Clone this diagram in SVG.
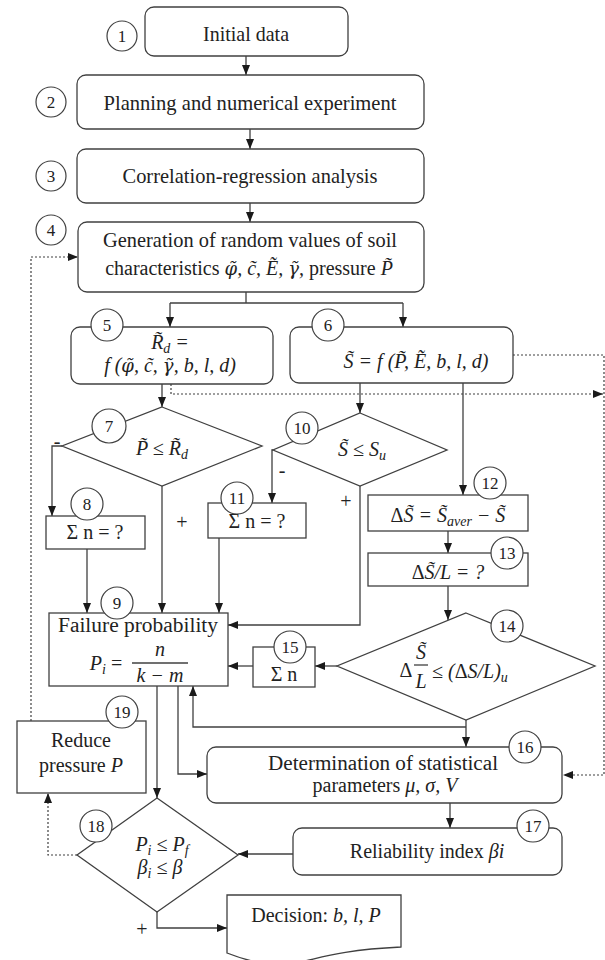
<svg xmlns="http://www.w3.org/2000/svg" width="605" height="960" viewBox="0 0 605 960">
<defs>
<style>
.box{fill:#fff;stroke:#404040;stroke-width:1.3}
.num{fill:#fff;stroke:#404040;stroke-width:1.2}
.ln{fill:none;stroke:#404040;stroke-width:1.3}
.dot{fill:none;stroke:#404040;stroke-width:1.2;stroke-dasharray:2,2}
text{font-family:"Liberation Serif","Times New Roman",serif;fill:#222}
.t{font-size:22px;text-anchor:middle}
.s{font-size:20px;text-anchor:middle}
.n{font-size:17px;text-anchor:middle}
.m{font-style:italic}
.g{font-family:"DejaVu Serif",serif;font-style:italic;font-size:0.9em}
.up{font-style:normal}
.pm{font-size:20px;text-anchor:middle}
</style>
<marker id="ah" markerWidth="10" markerHeight="8" refX="10" refY="4" orient="auto" markerUnits="userSpaceOnUse"><path d="M0,0 L10,4 L0,8 Z" fill="#1a1a1a"/></marker>
</defs>

<g id="connectors">
<path class="ln" d="M246,56 V75" marker-end="url(#ah)"/>
<path class="ln" d="M250,129 V149" marker-end="url(#ah)"/>
<path class="ln" d="M250,203 V222" marker-end="url(#ah)"/>
<path class="ln" d="M246,292 V303 M170,303 H403"/>
<path class="ln" d="M170,303 V327" marker-end="url(#ah)"/>
<path class="ln" d="M403,303 V327" marker-end="url(#ah)"/>
<path class="ln" d="M162,384 V407" marker-end="url(#ah)"/>
<path class="dot" d="M171,384 V394 H603" marker-end="url(#ah)"/>
<path class="dot" d="M513,355 H604 V775 H563" marker-end="url(#ah)"/>
<path class="ln" d="M360,383 V413" marker-end="url(#ah)"/>
<path class="ln" d="M463,383 V495" marker-end="url(#ah)"/>
<path class="ln" d="M62,446 H52 V516" marker-end="url(#ah)"/>
<path class="ln" d="M162,486 V613" marker-end="url(#ah)"/>
<path class="ln" d="M273,450 H272 V503" marker-end="url(#ah)"/>
<path class="ln" d="M360,486 V625 H228" marker-end="url(#ah)"/>
<path class="ln" d="M87,549 V613" marker-end="url(#ah)"/>
<path class="ln" d="M219,538 V613" marker-end="url(#ah)"/>
<path class="ln" d="M448,531 V553" marker-end="url(#ah)"/>
<path class="ln" d="M448,586 V620" marker-end="url(#ah)"/>
<path class="ln" d="M337,666 H315" marker-end="url(#ah)"/>
<path class="ln" d="M253,666 H228" marker-end="url(#ah)"/>
<path class="ln" d="M466,720 V747" marker-end="url(#ah)"/>
<path class="ln" d="M466,727 H193 V686" marker-end="url(#ah)"/>
<path class="ln" d="M157,686 V798" marker-end="url(#ah)"/>
<path class="ln" d="M178,686 V774 H207" marker-end="url(#ah)"/>
<path class="ln" d="M450,803 V828" marker-end="url(#ah)"/>
<path class="ln" d="M293,854 H238" marker-end="url(#ah)"/>
<path class="dot" d="M77,855 H48 V793" marker-end="url(#ah)"/>
<path class="dot" d="M31,721 V257 H78" marker-end="url(#ah)"/>
<path class="ln" d="M157,912 V928 H227" marker-end="url(#ah)"/>
</g>

<g id="node1">
<rect class="box" x="145" y="7" width="203" height="49" rx="9"/>
<text class="t" x="246" y="41" textLength="86" lengthAdjust="spacingAndGlyphs">Initial data</text>
<circle class="num" cx="122" cy="36" r="15"/><text class="n" x="122" y="42">1</text>
</g>

<g id="node2">
<rect class="box" x="77" y="75" width="347" height="54" rx="9"/>
<text class="t" x="250" y="110" textLength="293" lengthAdjust="spacingAndGlyphs">Planning and numerical experiment</text>
<circle class="num" cx="51" cy="102" r="15"/><text class="n" x="51" y="108">2</text>
</g>

<g id="node3">
<rect class="box" x="77" y="149" width="347" height="54" rx="9"/>
<text class="t" x="250" y="183" textLength="255" lengthAdjust="spacingAndGlyphs">Correlation-regression analysis</text>
<circle class="num" cx="51" cy="176" r="15"/><text class="n" x="51" y="182">3</text>
</g>

<g id="node4">
<rect class="box" x="78" y="222" width="346" height="70" rx="9"/>
<text class="t" x="250" y="247" textLength="294" lengthAdjust="spacingAndGlyphs">Generation of random values of soil</text>
<text class="t" x="249" y="275" style="font-size:20px">characteristics <tspan class="g">φ&#x303;</tspan><tspan class="m">, c&#x303;, E&#x303;, </tspan><tspan class="g">γ&#x303;</tspan><tspan class="m">,</tspan>  pressure <tspan class="m">P&#x303;</tspan></text>
<circle class="num" cx="51" cy="230" r="15"/><text class="n" x="51" y="236">4</text>
</g>

<g id="node5">
<rect class="box" x="71" y="327" width="202" height="57" rx="9"/>
<text class="s m" x="170" y="349">R&#x303;<tspan font-size="14" dy="4">d</tspan><tspan dy="-4"> =</tspan></text>
<text class="s m" x="170" y="372">f (<tspan class="g">φ&#x303;</tspan>, c&#x303;, <tspan class="g">γ&#x303;</tspan>, b, l, d)</text>
<circle class="num" cx="107" cy="325" r="16"/><text class="n" x="107" y="331">5</text>
</g>

<g id="node6">
<rect class="box" x="290" y="327" width="223" height="56" rx="9"/>
<text class="s m" x="416" y="368">S&#x303; = f (P&#x303;,  E&#x303;, b, l, d)</text>
<circle class="num" cx="328" cy="325" r="16"/><text class="n" x="328" y="331">6</text>
</g>

<g id="node7">
<polygon class="box" points="162,407 262,446 162,486 62,446"/>
<text class="s m" x="162" y="455">P&#x303; ≤ R&#x303;<tspan font-size="14" dy="4">d</tspan></text>
<circle class="num" cx="109" cy="426" r="17"/><text class="n" x="109" y="432">7</text>
</g>

<g id="node8">
<rect class="box" x="46" y="516" width="99" height="33"/>
<text class="s" x="95" y="539">Σ n = ?</text>
<circle class="num" cx="87" cy="504" r="16"/><text class="n" x="87" y="510">8</text>
</g>

<g id="node9">
<rect class="box" x="49" y="613" width="179" height="73"/>
<text class="s" x="138" y="632" textLength="160" lengthAdjust="spacingAndGlyphs">Failure probability</text>
<text class="s m" x="106" y="670">P<tspan font-size="14" dy="4">i</tspan><tspan dy="-4" font-style="normal"> =</tspan></text>
<text class="s m" x="160" y="656">n</text>
<line class="ln" x1="132" y1="663" x2="188" y2="663"/>
<text class="s m" x="160" y="682">k − m</text>
<circle class="num" cx="117" cy="603" r="16"/><text class="n" x="117" y="609">9</text>
</g>

<g id="node10">
<polygon class="box" points="360,413 447,450 360,486 273,450"/>
<text class="s m" x="362" y="456">S&#x303; ≤ S<tspan font-size="14" dy="4">u</tspan></text>
<circle class="num" cx="302" cy="428" r="16"/><text class="n" x="302" y="434">10</text>
</g>

<g id="node11">
<rect class="box" x="208" y="503" width="98" height="35"/>
<text class="s" x="257" y="528">Σ n = ?</text>
<circle class="num" cx="237" cy="498" r="16"/><text class="n" x="237" y="504">11</text>
</g>

<g id="node12">
<rect class="box" x="368" y="495" width="160" height="36"/>
<text class="s m" x="448" y="522"><tspan class="up">Δ</tspan>S&#x303; = S&#x303;<tspan font-size="14" dy="4">aver</tspan><tspan dy="-4"> − S&#x303;</tspan></text>
<circle class="num" cx="490" cy="483" r="16"/><text class="n" x="490" y="489">12</text>
</g>

<g id="node13">
<rect class="box" x="368" y="553" width="160" height="33"/>
<text class="s m" x="448" y="579"><tspan class="up">Δ</tspan>S&#x303;/L = ?</text>
<circle class="num" cx="507" cy="553" r="16"/><text class="n" x="507" y="559">13</text>
</g>

<g id="node14">
<polygon class="box" points="466,613 595,666 466,720 337,666"/>
<text class="s" x="406" y="677">Δ</text>
<text class="s m" x="421" y="659">S&#x303;</text>
<line class="ln" x1="414" y1="665" x2="428" y2="665"/>
<text class="s m" x="421" y="688">L</text>
<text class="s m" x="432" y="678" style="text-anchor:start">≤ (<tspan class="up">Δ</tspan>S/L)<tspan font-size="14" dy="4">u</tspan></text>
<circle class="num" cx="507" cy="626" r="16"/><text class="n" x="507" y="632">14</text>
</g>

<g id="node15">
<rect class="box" x="253" y="647" width="62" height="40"/>
<text class="s" x="284" y="681">Σ n</text>
<circle class="num" cx="290" cy="647" r="16"/><text class="n" x="290" y="653">15</text>
</g>

<g id="node16">
<rect class="box" x="207" y="747" width="355" height="56" rx="9"/>
<text class="s" x="383" y="770" textLength="230" lengthAdjust="spacingAndGlyphs">Determination of statistical</text>
<text class="s" x="385" y="792">parameters <tspan class="m">μ, σ, V</tspan></text>
<circle class="num" cx="525" cy="747" r="16"/><text class="n" x="525" y="753">16</text>
</g>

<g id="node17">
<rect class="box" x="293" y="828" width="269" height="47" rx="9"/>
<text class="s" x="427" y="858">Reliability index <tspan class="m">βi</tspan></text>
<circle class="num" cx="533" cy="826" r="16"/><text class="n" x="533" y="832">17</text>
</g>

<g id="node18">
<polygon class="box" points="157,798 238,855 157,912 77,855"/>
<text class="s m" x="162" y="851">P<tspan font-size="14" dy="4">i</tspan><tspan dy="-4"> ≤ P</tspan><tspan font-size="14" dy="4">f</tspan></text>
<text class="s m" x="160" y="874">β<tspan font-size="14" dy="4">i</tspan><tspan dy="-4"> ≤ β</tspan></text>
<circle class="num" cx="96" cy="826" r="16"/><text class="n" x="96" y="832">18</text>
</g>

<g id="node19">
<rect class="box" x="17" y="721" width="129" height="72"/>
<text class="s" x="81" y="747">Reduce</text>
<text class="s" x="81" y="772">pressure <tspan class="m">P</tspan></text>
<circle class="num" cx="122" cy="712" r="16"/><text class="n" x="122" y="718">19</text>
</g>

<g id="decision">
<path class="box" d="M227,895 H401 V947 C340,950 320,958 300,962 C270,968 245,960 227,953 Z"/>
<text class="s" x="316" y="922">Decision: <tspan class="m">b, l, P</tspan></text>
</g>

<g id="labels">
<text class="pm" x="57" y="448">-</text>
<text class="pm" x="282" y="477">-</text>
<text class="pm" x="182" y="529">+</text>
<text class="pm" x="346" y="508">+</text>
<text class="pm" x="142" y="936">+</text>
</g>
</svg>
